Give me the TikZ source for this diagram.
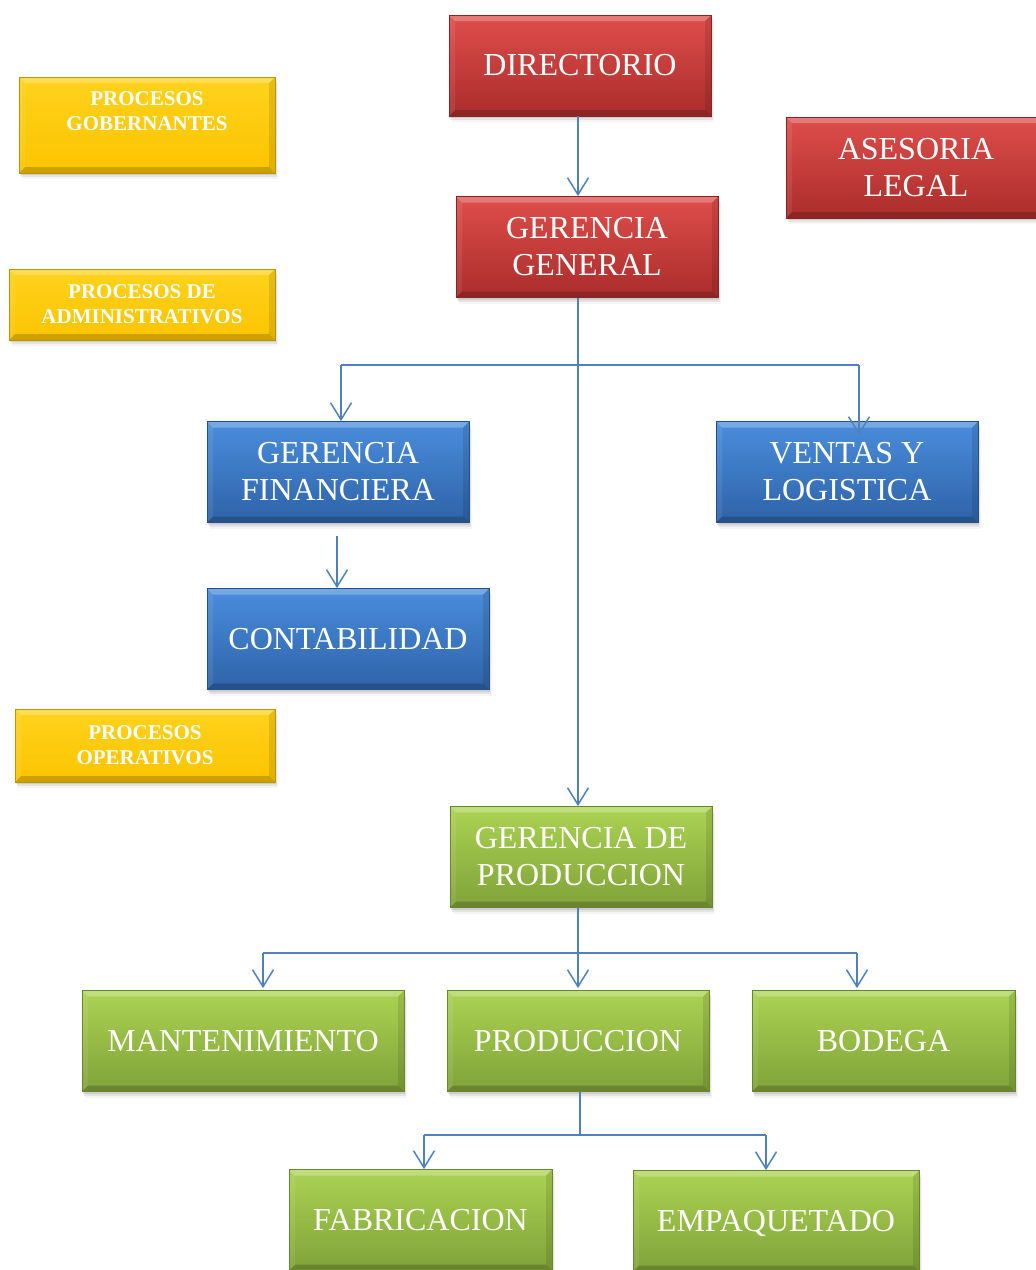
\documentclass[tikz,border=0pt]{standalone}
\usepackage{fontspec}
\setmainfont{Liberation Serif}
\usetikzlibrary{shadows,arrows.meta}
\definecolor{redT}{HTML}{DE4E4B}
\definecolor{redB}{HTML}{AA2D2B}
\definecolor{redD}{HTML}{8A2422}
\definecolor{bluT}{HTML}{4A8DDC}
\definecolor{bluB}{HTML}{2E63A8}
\definecolor{bluD}{HTML}{244E86}
\definecolor{grnT}{HTML}{ABD352}
\definecolor{grnB}{HTML}{80A239}
\definecolor{grnD}{HTML}{68862D}
\definecolor{yelT}{HTML}{FFD21C}
\definecolor{yelB}{HTML}{FBC400}
\definecolor{yelD}{HTML}{B89400}
\definecolor{lineblue}{HTML}{4F81BD}
\tikzset{
  bevel/.style={path picture={
    \coordinate (pnw) at (path picture bounding box.north west);
    \coordinate (pne) at (path picture bounding box.north east);
    \coordinate (psw) at (path picture bounding box.south west);
    \coordinate (pse) at (path picture bounding box.south east);
    \fill[white,opacity=.25] (pnw) -- (pne) -- ([shift={(-6pt,-6pt)}]pne) -- ([shift={(6pt,-6pt)}]pnw) -- cycle;
    \fill[black,opacity=.18] (psw) -- (pse) -- ([shift={(-6pt,6pt)}]pse) -- ([shift={(6pt,6pt)}]psw) -- cycle;
    \fill[black,opacity=.10] (pne) -- (pse) -- ([shift={(-6pt,6pt)}]pse) -- ([shift={(-6pt,-6pt)}]pne) -- cycle;
    \fill[white,opacity=.08] (pnw) -- (psw) -- ([shift={(6pt,6pt)}]psw) -- ([shift={(6pt,-6pt)}]pnw) -- cycle;
  }},
  softshadow/.style={
    drop shadow={shadow xshift=1pt, shadow yshift=-2pt, fill=black, opacity=0.10},
    drop shadow={shadow xshift=2pt, shadow yshift=-4pt, fill=black, opacity=0.07},
    drop shadow={shadow xshift=3pt, shadow yshift=-6pt, fill=black, opacity=0.04}},
  basebox/.style={rectangle, inner sep=0pt, minimum height=101pt, minimum width=262pt,
    align=center, text=white, font=\fontsize{32}{37}\selectfont, line width=0.8pt, bevel,
    softshadow},
  redbox/.style={basebox, top color=redT, bottom color=redB, draw=redD},
  bluebox/.style={basebox, top color=bluT, bottom color=bluB, draw=bluD},
  greenbox/.style={basebox, top color=grnT, bottom color=grnB, draw=grnD},
  yellowbox/.style={basebox, top color=yelT, bottom color=yelB, draw=yelD,
    font=\fontsize{21}{25}\bfseries\selectfont},
  ytext/.style={text=white, align=center, inner sep=0pt, font=\fontsize{21}{25}\bfseries\selectfont},
  conn/.style={draw=lineblue, line width=1.6pt},
  arr/.style={conn, -{Straight Barb[length=17pt,width=21pt,line width=1.5pt]}},
}
\begin{document}
\begin{tikzpicture}[x=1pt,y=-1pt]
\useasboundingbox (0,0) rectangle (1036,1270);
\clip (0,0) rectangle (1036,1270);
% legend boxes
\node[yellowbox, minimum width=256pt, minimum height=96pt] (gob) at (147,125) {};
\node[ytext] (gobt) at (147,111.5) {PROCESOS\\GOBERNANTES};
\node[yellowbox, minimum width=266pt, minimum height=71pt] (adm) at (142,304.5) {PROCESOS DE\\ADMINISTRATIVOS};
\node[yellowbox, minimum width=260pt, minimum height=73pt] (ope) at (145,745.5) {PROCESOS\\OPERATIVOS};
% red
\node[redbox] (dir) at (580,65.5) {DIRECTORIO};
\node[redbox] (gg) at (587,247) {GERENCIA\\GENERAL};
\node[redbox, minimum width=260pt] (ase) at (916,167.5) {ASESORIA\\LEGAL};
% blue
\node[bluebox] (gf) at (338,472) {GERENCIA\\FINANCIERA};
\node[bluebox] (vl) at (847,472) {VENTAS Y\\LOGISTICA};
\node[bluebox, minimum width=282pt] (con) at (348,639) {CONTABILIDAD};
% green
\node[greenbox] (gp) at (581,857) {GERENCIA DE\\PRODUCCION};
\node[greenbox, minimum width=322pt] (man) at (243,1041) {MANTENIMIENTO};
\node[greenbox] (pro) at (578,1041) {PRODUCCION};
\node[greenbox, minimum width=263pt] (bod) at (883.5,1041) {BODEGA};
\node[greenbox, minimum width=263pt] (fab) at (420.5,1220) {FABRICACION};
\node[greenbox, minimum width=286pt, text depth=0pt] (emp) at (776,1221) {EMPAQUETADO};
% junction coordinates
\coordinate (c1) at (578,0);
\coordinate (j1) at (578,365);
\coordinate (j1l) at (341,365);
\coordinate (j1r) at (859,365);
\coordinate (cf) at (337,0);
\coordinate (j2) at (578,953);
\coordinate (j2l) at (263,953);
\coordinate (j2r) at (857,953);
\coordinate (j3) at (580,1135);
\coordinate (j3l) at (424,1135);
\coordinate (j3r) at (766,1135);
% connectors
\draw[arr] (dir.south -| c1) -- (gg.north -| c1);
\draw[arr] (gg.south -| c1) -- (gp.north -| c1);
\draw[conn] (j1l) -- (j1r);
\draw[arr] (j1l) -- (gf.north -| j1l);
\draw[arr] (j1r) -- ([yshift=-14pt]vl.north -| j1r);
\draw[arr] ([yshift=-13pt]gf.south -| cf) -- (con.north -| cf);
\draw[conn] (gp.south -| j2) -- (j2);
\draw[conn] (j2l) -- (j2r);
\draw[arr] (j2l) -- ([yshift=2pt]man.north -| j2l);
\draw[arr] (j2) -- ([yshift=2pt]pro.north -| j2);
\draw[arr] (j2r) -- ([yshift=2pt]bod.north -| j2r);
\draw[conn] (pro.south -| j3) -- (j3);
\draw[conn] (j3l) -- (j3r);
\draw[arr] (j3l) -- (fab.north -| j3l);
\draw[arr] (j3r) -- (emp.north -| j3r);
\end{tikzpicture}
\end{document}
